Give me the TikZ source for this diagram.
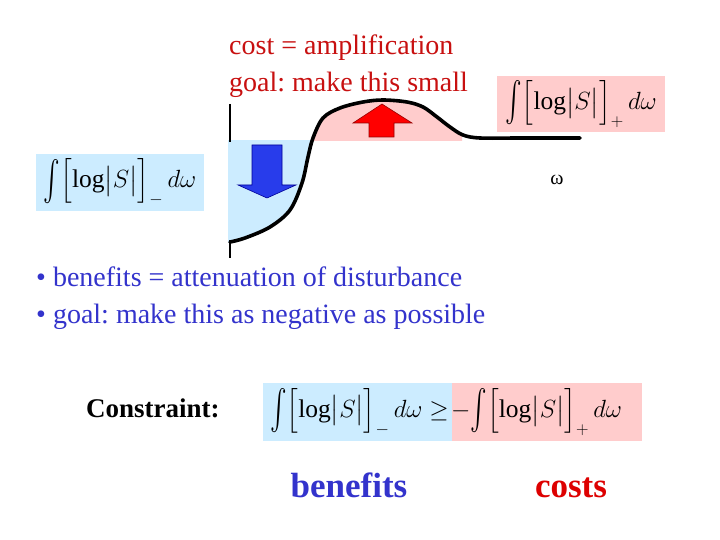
\documentclass[tikz,border=0pt]{standalone}
\usepackage{amsmath}
\usepackage{graphicx}
\usepackage{fontspec}
\setmainfont{Liberation Serif}
\frenchspacing
\definecolor{redtxt}{RGB}{200,16,16}
\definecolor{bluetxt}{RGB}{51,51,204}
\definecolor{costred}{RGB}{221,0,0}
\definecolor{lightblue}{RGB}{204,236,255}
\definecolor{lightpink}{RGB}{255,204,204}
\definecolor{arrblue}{RGB}{40,60,235}
\definecolor{arrblueline}{RGB}{0,0,150}
\definecolor{arrred}{RGB}{255,0,0}
\definecolor{arrredline}{RGB}{150,0,0}
\newcommand{\myint}{\vcenter{\hbox{\scalebox{1}[1.6]{$\textstyle\int$}}}}
\newcommand{\myF}[1]{\myint\Bigl[\log\bigl|S\bigr|\Bigr]_{#1}\,d\omega}
\begin{document}
\begin{tikzpicture}[x=1pt,y=-1pt,
  mathbox/.style={inner sep=0pt, font=\fontsize{25.5}{30}\selectfont},
  redline/.style={anchor=base west, inner sep=0pt, text=redtxt, font=\fontsize{28}{32}\selectfont},
  blueline/.style={anchor=base west, inner sep=0pt, text=bluetxt, font=\fontsize{28}{32}\selectfont},
  curve/.style={line width=3.6pt, line join=round, line cap=round}]
\useasboundingbox (0,0) rectangle (720,540);
\fill[white] (0,0) rectangle (720,540);

% shaded regions
\begin{scope}
  \clip (228,141) rectangle (314,262);
  \fill[lightblue] plot[smooth, tension=0.55] coordinates {(230,242) (245,238) (270,227) (290,210) (302,183) (308,157) (313,138) (323,118) (340,108) (363,102) (383,100) (407,102) (423,107) (437,117) (450,127) (463,135) (480,138) (520,138) (580,138)} -- (580,0) -- (228,0) -- (228,242) -- cycle;
\end{scope}
\begin{scope}
  \clip (312,80) rectangle (462,141);
  \fill[lightpink] plot[smooth, tension=0.55] coordinates {(230,242) (245,238) (270,227) (290,210) (302,183) (308,157) (313,138) (323,118) (340,108) (363,102) (383,100) (407,102) (423,107) (437,117) (450,127) (463,135) (480,138) (520,138) (580,138)} -- (580,300) -- (228,300) -- cycle;
\end{scope}

% axis pieces
\draw[line width=2pt] (230,104) -- (230,142);
\draw[line width=2pt] (230,240) -- (230,258);

% curve
\draw[curve] plot[smooth, tension=0.55] coordinates {(230,242) (245,238) (270,227) (290,210) (302,183) (308,157) (313,138) (323,118) (340,108) (363,102) (383,100) (407,102) (423,107) (437,117) (450,127) (463,135) (480,138) (520,138) (580,138)};

% arrows
\draw[fill=arrblue, draw=arrblueline, line width=0.6pt] (252,145) -- (282,145) -- (282,185) -- (296,185) -- (267,198) -- (238,185) -- (252,185) -- cycle;
\draw[fill=arrred, draw=arrredline, line width=0.6pt] (369,137) -- (394,137) -- (394,123) -- (412,123) -- (382,104) -- (353,123) -- (369,123) -- cycle;

% texts
\node[redline] (cost) at (229,55) {cost = amplification};
\node[redline] (goal) at (229,92) {goal: make this small};
\node[blueline] (b1) at (36,286) {\textbullet\ benefits = attenuation of disturbance};
\node[blueline] (b2) at (36,323) {\textbullet\ goal: make this as negative as possible};
\node[inner sep=0pt, font=\fontsize{20}{24}\selectfont] (w) at (557,180) {ω};

% formula boxes
\node[fill=lightpink, minimum width=168pt, minimum height=56pt, inner sep=0pt] (pbox) at (581,104) {};
\node[mathbox] (pf) at (pbox.center) {$\myF{+}$};
\node[fill=lightblue, minimum width=168pt, minimum height=57pt, inner sep=0pt] (bbox) at (120,182.5) {};
\node[mathbox] (bf) at (bbox.center) {$\myF{-}$};

% constraint
\node[anchor=base west, inner sep=0pt, font=\fontsize{27}{32}\selectfont\bfseries] (con) at (86,417) {Constraint:};
\node[fill=lightblue, minimum width=189pt, minimum height=58pt, inner sep=0pt] (cb) at (357.5,412) {};
\node[fill=lightpink, minimum width=190pt, minimum height=58pt, inner sep=0pt] (cp) at (547,412) {};
\node[mathbox, anchor=east] (cfl) at (449,412) {$\myF{-}\geq$};
\node[mathbox, anchor=west] (cfr) at (451,412) {$-\myF{+}$};

\node[anchor=base, inner sep=0pt, text=bluetxt, font=\fontsize{35}{40}\selectfont\bfseries] (ben) at (349,497) {benefits};
\node[anchor=base, inner sep=0pt, text=costred, font=\fontsize{35}{40}\selectfont\bfseries] (cos) at (571,497) {costs};
\end{tikzpicture}
\end{document}
